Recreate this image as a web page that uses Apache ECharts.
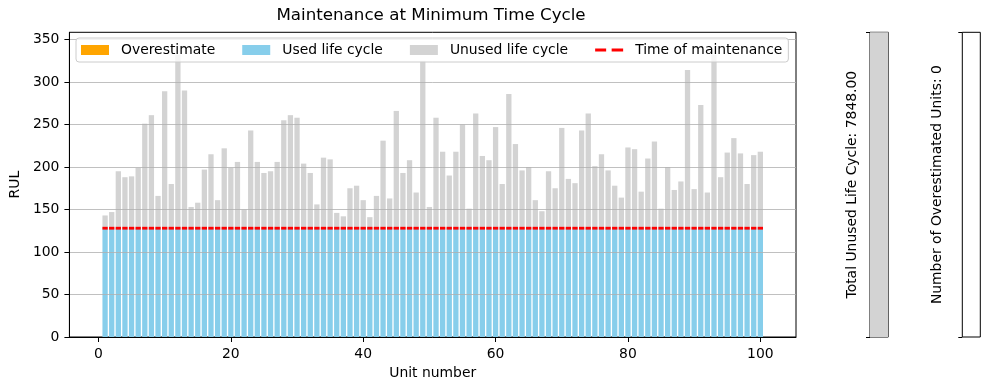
<!DOCTYPE html>
<html><head><meta charset="utf-8">
<script src="https://cdn.jsdelivr.net/npm/echarts@6/dist/echarts.min.js"></script>
<style>html,body{margin:0;padding:0;background:#fff}#c{width:989px;height:390px}</style>
</head><body><div id="c"></div>
<script>
const units = Array.from({length: 100}, (_, i) => i + 1);
const totalLife = [143,147,195,188,189,199,251,261,166,289,
180,332,290,153,158,197,215,161,222,199,
206,150,243,206,193,195,206,255,261,258,
204,193,156,211,209,146,142,175,178,161,
141,166,231,163,266,193,208,170,325,153,
258,218,190,218,250,151,263,213,208,247,
180,286,227,196,200,161,148,195,175,246,
186,181,243,263,201,215,196,178,164,223,
221,171,210,230,151,200,173,183,314,174,
273,170,332,188,217,234,216,180,214,218];
const maintenanceTime = 128;
const yTicks = [0, 50, 100, 150, 200, 250, 300, 350];
const xTicks = [0, 20, 40, 60, 80, 100];

const usedLife = units.map(() => maintenanceTime);
const unusedLife = totalLife.map(v => Math.max(v - maintenanceTime, 0));
const overestimate = totalLife.map(v => Math.max(maintenanceTime - v, 0));
const totalUnused = unusedLife.reduce((a, b) => a + b, 0);
const overCount = overestimate.filter(v => v > 0).length;

const FONT = 'DejaVu Sans';
const FS = 13.9;
const chart = echarts.init(document.getElementById('c'), null, {renderer: 'canvas'});

const sideAxisY = (idx, max, name, gap) => ({
  gridIndex: idx, type: 'value', min: 0, max: max, interval: max,
  axisLine: {show: false}, axisLabel: {show: false}, splitLine: {show: false},
  axisTick: {show: true, length: 4, lineStyle: {color: '#000', width: 1}},
  name: name, nameLocation: 'middle', nameGap: gap,
  nameTextStyle: {fontFamily: FONT, fontSize: FS, color: '#000'}
});

// value first, unit second, so that stacking applies to the value dimension
const pairs = vals => units.map((u, i) => [vals[i], u]);

chart.setOption({
  animation: false,
  backgroundColor: '#fff',
  textStyle: {fontFamily: FONT},
  title: {
    text: 'Maintenance at Minimum Time Cycle', left: 431, top: 7, padding: 0,
    textAlign: 'center',
    textStyle: {fontFamily: FONT, fontSize: 16.7, fontWeight: 'normal', color: '#000'}
  },
  legend: {
    left: 76, top: 38, padding: [5, 6, 5, 5],
    itemWidth: 28, itemHeight: 10, itemGap: 27,
    backgroundColor: 'rgba(255,255,255,0.8)', borderColor: '#cccccc', borderWidth: 1, borderRadius: 3,
    textStyle: {fontFamily: FONT, fontSize: FS, color: '#000', padding: [0, 0, 0, 7]},
    data: [
      {name: 'Overestimate', icon: 'rect'},
      {name: 'Used life cycle', icon: 'rect'},
      {name: 'Unused life cycle', icon: 'rect'},
      {name: 'Time of maintenance', icon: 'path://M0,0M28,10M0,3.6h11v2.8h-11zM16.5,3.6h11.5v2.8h-11.5z'}
    ]
  },
  grid: [
    {left: 66.7, right: 193, top: 32.3, bottom: 53, show: true, borderColor: '#000', borderWidth: 1, containLabel: false},
    {left: 870, width: 18.3, top: 32.3, height: 304.7, show: true, borderColor: '#000', borderWidth: 1},
    {left: 962.3, width: 18, top: 32.3, height: 304.7, show: true, borderColor: '#000', borderWidth: 1}
  ],
  xAxis: [
    {
      gridIndex: 0, type: 'value', min: -4.39, max: 105.39, z: 3,
      axisLine: {onZero: false, lineStyle: {color: '#000', width: 1}},
      axisTick: {customValues: xTicks, length: 5, lineStyle: {color: '#000'}},
      axisLabel: {customValues: xTicks, fontFamily: FONT, fontSize: FS, color: '#000', margin: 10},
      splitLine: {show: false},
      name: 'Unit number', nameLocation: 'middle', nameGap: 26,
      nameTextStyle: {fontFamily: FONT, fontSize: FS, color: '#000'}
    },
    {gridIndex: 1, type: 'category', data: ['u'], show: false},
    {gridIndex: 2, type: 'category', data: ['o'], show: false}
  ],
  yAxis: [
    {
      gridIndex: 0, type: 'value', min: 0, max: 358.5, interval: 50, z: 3,
      axisLine: {show: true, onZero: false, lineStyle: {color: '#000', width: 1}},
      axisTick: {show: true, customValues: yTicks, length: 5, lineStyle: {color: '#000'}},
      axisLabel: {customValues: yTicks, fontFamily: FONT, fontSize: FS, color: '#000', margin: 10},
      splitLine: {show: true, lineStyle: {color: '#b0b0b0', width: 0.8}},
      name: 'RUL', nameLocation: 'middle', nameGap: 43,
      nameTextStyle: {fontFamily: FONT, fontSize: FS, color: '#000'}
    },
    sideAxisY(1, totalUnused, 'Total Unused Life Cycle: ' + totalUnused.toFixed(2), 11),
    sideAxisY(2, 1, 'Number of Overestimated Units: ' + overCount, 18)
  ],
  series: [
    {
      name: 'Used life cycle', type: 'bar', stack: 'rul', xAxisIndex: 0, yAxisIndex: 0,
      barWidth: '80%', itemStyle: {color: '#87ceeb'},
      encode: {x: 1, y: 0}, data: pairs(usedLife)
    },
    {
      name: 'Unused life cycle', type: 'bar', stack: 'rul', xAxisIndex: 0, yAxisIndex: 0,
      barWidth: '80%', itemStyle: {color: '#d3d3d3'},
      encode: {x: 1, y: 0}, data: pairs(unusedLife)
    },
    {
      name: 'Overestimate', type: 'bar', stack: 'rul', xAxisIndex: 0, yAxisIndex: 0,
      barWidth: '80%', itemStyle: {color: '#ffa500'},
      encode: {x: 1, y: 0}, data: pairs(overestimate)
    },
    {
      name: 'Time of maintenance', type: 'custom', xAxisIndex: 0, yAxisIndex: 0, z: 5,
      itemStyle: {color: '#ff0000'},
      encode: {x: 0, y: 1},
      data: units.map(u => [u, maintenanceTime]),
      renderItem: (params, api) => {
        const x = api.value(0), y = api.value(1);
        const p1 = api.coord([x - 0.4, y]);
        const p2 = api.coord([x + 0.4, y]);
        return {type: 'line', shape: {x1: p1[0], y1: p1[1], x2: p2[0], y2: p2[1]},
                style: {stroke: '#ff0000', lineWidth: 2.8}};
      }
    },
    {
      type: 'bar', xAxisIndex: 1, yAxisIndex: 1, barWidth: '100%', silent: true,
      itemStyle: {color: '#d3d3d3'}, data: [totalUnused]
    },
    {
      type: 'bar', xAxisIndex: 2, yAxisIndex: 2, barWidth: '100%', silent: true,
      itemStyle: {color: '#ffa500'}, data: [overCount]
    }
  ]
});
</script>
</body></html>
